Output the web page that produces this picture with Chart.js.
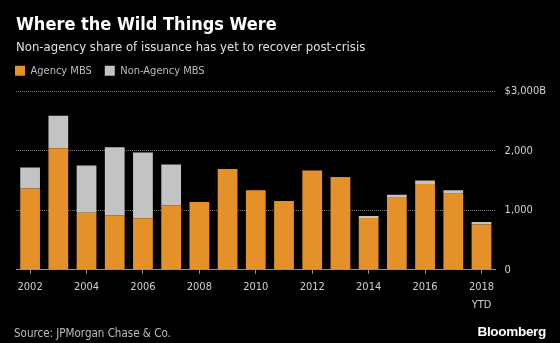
<!DOCTYPE html>
<html>
<head>
<meta charset="utf-8">
<script src="https://cdn.jsdelivr.net/npm/chart.js@4"></script>
<style>
  html, body { margin: 0; padding: 0; background: #000; }
  #wrap { position: relative; width: 560px; height: 343px; }
  #source { position: absolute; left: 14px; top: 326px; font: 11.5px "DejaVu Sans Condensed", "DejaVu Sans", sans-serif; color: #bdbdbd; }
  #brand { position: absolute; right: 14px; top: 324px; font: bold 13.5px "Liberation Sans", Arial, sans-serif; color: #fff; letter-spacing: -0.3px; }
</style>
</head>
<body>
<div id="wrap">
  <canvas id="mbsChart" width="560" height="343"></canvas>
  <div id="source">Source: JPMorgan Chase &amp; Co.</div>
  <div id="brand">Bloomberg</div>
</div>
<script>
// issuance, $ billions
const years = ['2002', '2003', '2004', '2005', '2006', '2007', '2008', '2009', '2010',
               '2011', '2012', '2013', '2014', '2015', '2016', '2017', ['2018', 'YTD']];
const agency    = [1367, 2043, 960, 910, 867, 1083, 1138, 1693, 1338, 1155, 1667, 1545, 872, 1210, 1443, 1277, 760];
const nonAgency = [350, 545, 790, 1150, 1105, 684, 0, 0, 0, 0, 0, 15, 33, 50, 57, 61, 45];

const yTicks = [0, 1000, 2000, 3000];

const FONT = '"DejaVu Sans Condensed", "DejaVu Sans", sans-serif';

// pull the legend back to the left margin (chart.js indents it by the item padding)
const legendShift = {
    id: 'legendShift',
    afterLayout(chart) {
        const lg = chart.legend;
        lg.left -= 14;
        lg.right -= 14;
        lg.top -= 5;
        lg.bottom -= 5;
    }
};

const ctx = document.getElementById('mbsChart').getContext('2d');
new Chart(ctx, {
    type: 'bar',
    data: {
        labels: years,
        datasets: [
            { label: 'Agency MBS', data: agency, backgroundColor: '#e5912a', barPercentage: 0.7, categoryPercentage: 1 },
            { label: 'Non-Agency MBS', data: nonAgency, backgroundColor: '#c3c3c3', barPercentage: 0.7, categoryPercentage: 1 }
        ]
    },
    options: {
        responsive: false,
        animation: false,
        layout: { padding: { left: 16, right: 5, top: 15, bottom: 24 } },
        plugins: {
            title: {
                display: true, text: 'Where the Wild Things Were', align: 'start',
                color: '#ffffff', font: { family: FONT, size: 18, weight: 'bold' },
                padding: { top: 0, bottom: 3 }
            },
            subtitle: {
                display: true, text: 'Non-agency share of issuance has yet to recover post-crisis', align: 'start',
                color: '#e0e0e0', font: { family: FONT, size: 13 },
                padding: { bottom: 2 }
            },
            legend: {
                align: 'start',
                labels: { color: '#bdbdbd', boxWidth: 10, boxHeight: 10, padding: 13, font: { family: FONT, size: 11 } }
            },
            tooltip: { enabled: false }
        },
        scales: {
            x: {
                stacked: true,
                grid: {
                    offset: false, drawOnChartArea: false, tickLength: 4,
                    color: c => (c.index % 2 === 0 ? '#8a94a3' : 'transparent')
                },
                border: { display: true, color: '#8a94a3' },
                ticks: {
                    color: '#d0d0d0', maxRotation: 0, autoSkip: false, padding: 5,
                    font: { family: FONT, size: 11, lineHeight: 1.6 },
                    callback: function (v, i) { return i % 2 === 0 ? this.getLabelForValue(v) : ''; }
                }
            },
            y: {
                stacked: true, position: 'right', min: 0, max: 3000,
                afterBuildTicks: axis => { axis.ticks = yTicks.map(v => ({ value: v })); },
                grid: { color: c => (c.tick && c.tick.value === 0 ? 'transparent' : '#777777'), drawTicks: false },
                border: { display: false, dash: [1, 1] },
                ticks: {
                    color: '#d0d0d0', padding: 9, font: { family: FONT, size: 11 },
                    callback: v => (v === 3000 ? '$3,000B' : v.toLocaleString('en-US'))
                }
            }
        }
    },
    plugins: [legendShift]
});
</script>
</body>
</html>
